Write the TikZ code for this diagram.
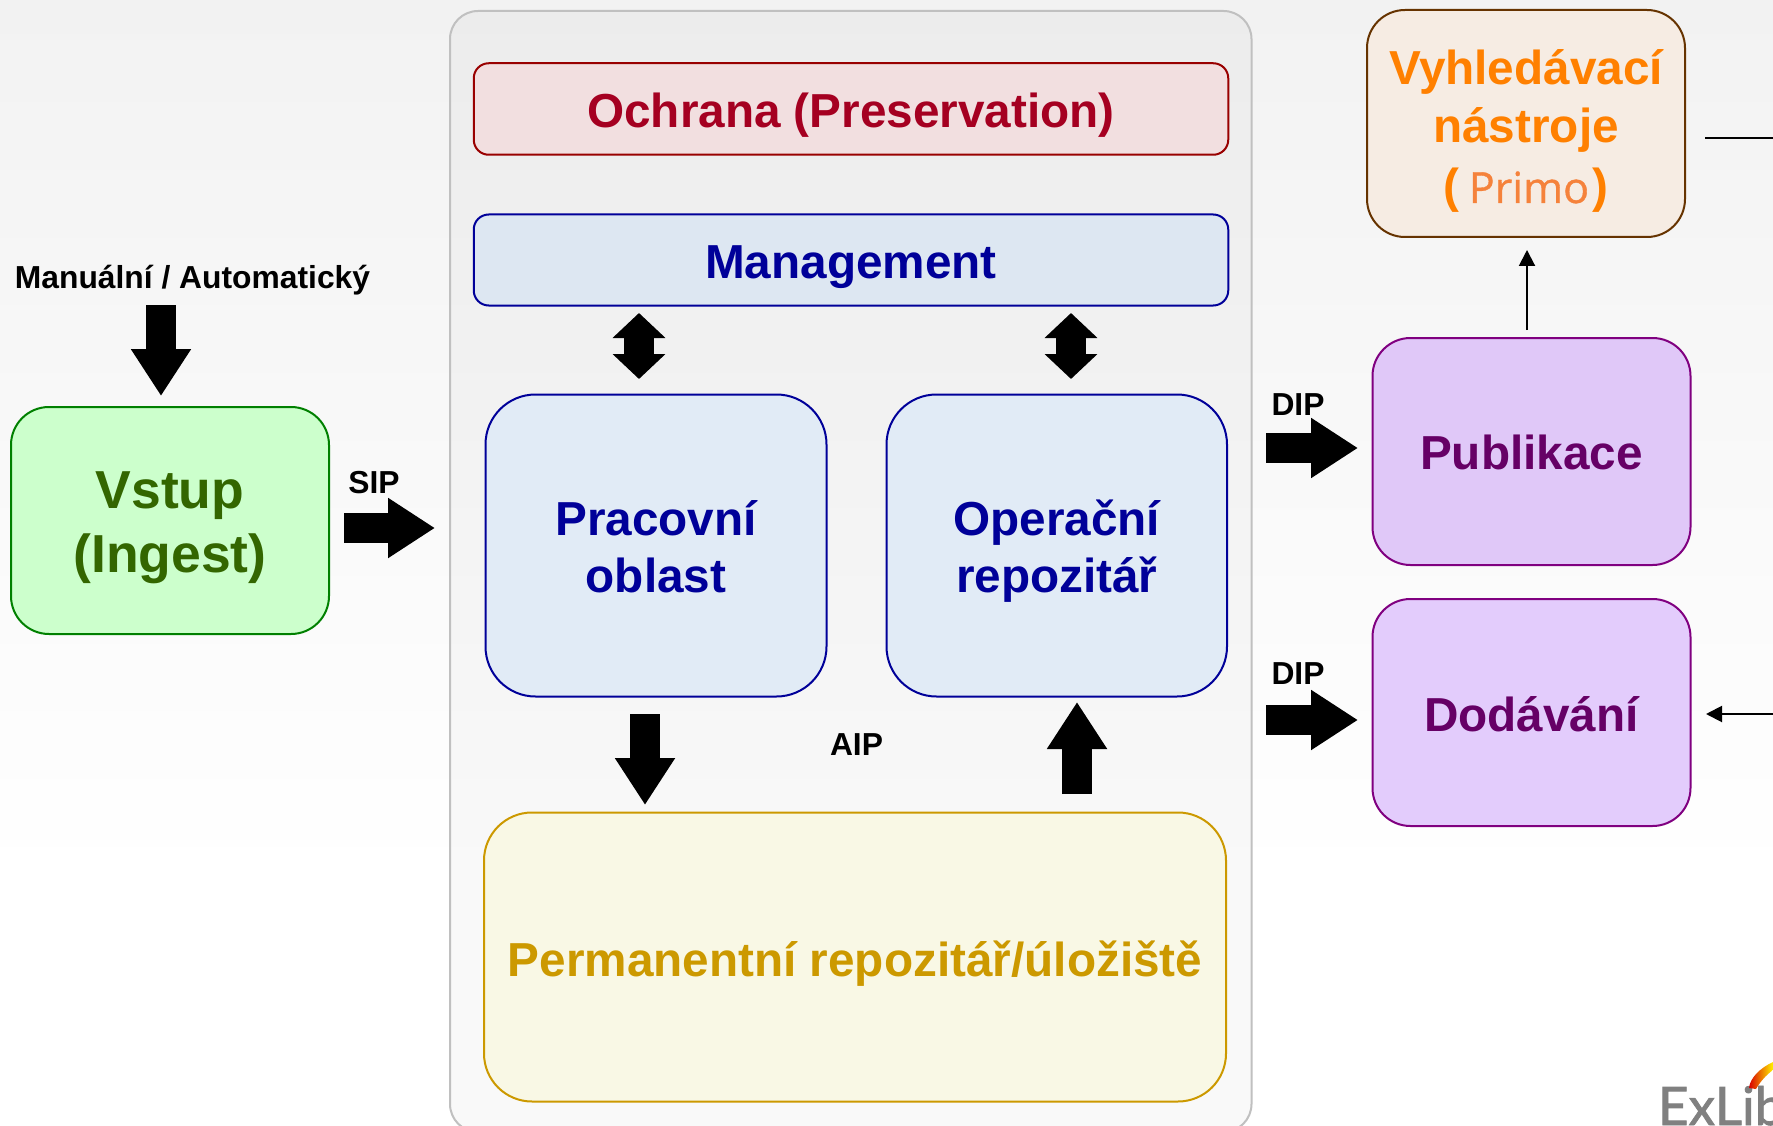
\documentclass[tikz,border=0pt]{standalone}
\usepackage{fontspec}
\setmainfont{Liberation Sans}
\newfontfamily\primofont[FakeBold=0.8]{Open Sans}
\newfontfamily\logofont[FakeBold=1.5]{Lato}
\usetikzlibrary{arrows.meta}
\definecolor{bgtop}{HTML}{F2F2F2}
\definecolor{frameline}{HTML}{C0C0C0}
\definecolor{greenfill}{HTML}{CCFFCC}\definecolor{greenline}{HTML}{008000}\definecolor{greentext}{HTML}{336600}
\definecolor{redfill}{HTML}{F2DFE0}\definecolor{redline}{HTML}{990000}\definecolor{redtext}{HTML}{A50021}
\definecolor{bluefilla}{HTML}{DDE7F2}\definecolor{bluefillb}{HTML}{E1EBF6}\definecolor{blueline}{HTML}{000099}
\definecolor{yellowfill}{HTML}{F9F8E5}\definecolor{yellowline}{HTML}{CC9900}
\definecolor{tanfill}{HTML}{F6ECE3}\definecolor{tanline}{HTML}{663300}\definecolor{orangetext}{HTML}{FF8000}\definecolor{primotext}{HTML}{F5823B}
\definecolor{purplefilla}{HTML}{E0C8F8}\definecolor{purplefillb}{HTML}{E3CCFC}\definecolor{purpleline}{HTML}{800080}\definecolor{purpletext}{HTML}{660066}
\tikzset{
  every node/.style={inner sep=0pt,outer sep=0pt},
  box/.style n args={4}{rectangle,draw=#1,fill=#2,line width=2pt,minimum width=#3,minimum height=#4,align=center,font=\fontsize{47.7}{57}\selectfont\bfseries},
  baseat/.style={text height=#1,text depth=0pt},
  lab/.style={font=\fontsize{31.8}{37}\selectfont\bfseries,anchor=base,text=black},
  blockarrow/.style={line width=30pt,draw=black,-{Triangle[length=47pt,width=57pt]}},
  blockdouble/.style={line width=30pt,draw=black,{Triangle[length=25pt,width=51.5pt]}-{Triangle[length=25pt,width=51.5pt]}},
  thinarrow/.style={line width=2pt,draw=black,-{Triangle[length=16pt,width=16pt]}},
  thinline/.style={line width=2pt,draw=black}
}
\begin{document}
\begin{tikzpicture}[x=1pt,y=-1pt]
\useasboundingbox (0,0) rectangle (1773,1126);
\clip (0,0) rectangle (1773,1126);
\fill[white] (0,0) rectangle (1773,1126);
\shade[top color=bgtop,bottom color=white] (0,0) rectangle (1773,880);

% frame
\node[draw=frameline,line width=2pt,fill=black,fill opacity=.025,draw opacity=1,rounded corners=28pt,minimum width=801.5pt,minimum height=1121pt] (frame) at (850.75,571.5) {};

% boxes
\node[box={greenline}{greenfill}{318pt}{227pt},rounded corners=38pt,text=greentext,font=\fontsize{53.5}{64}\selectfont\bfseries,baseat=103pt] (vstup) at (170,520.5) {Vstup\\(Ingest)};
\node[box={redline}{redfill}{754.5pt}{91.5pt},rounded corners=15pt,text=redtext,baseat=38pt] (ochrana) at (851,109) {Ochrana (Preservation)};
\node[box={blueline}{bluefilla}{754.5pt}{91pt},rounded corners=15pt,text=blueline,baseat=38pt] (mgmt) at (851,260) {Management};
\node[box={blueline}{bluefillb}{341pt}{302pt},rounded corners=50pt,text=blueline,baseat=94pt] (prac) at (656,545.5) {Pracovní\\oblast};
\node[box={blueline}{bluefillb}{340.5pt}{302pt},rounded corners=50pt,text=blueline,baseat=94pt] (oper) at (1056.75,545.5) {Operační\\repozitář};
\node[box={yellowline}{yellowfill}{742pt}{289pt},rounded corners=48pt,text=yellowline,baseat=38pt] (perm) at (855,957) {Permanentní repozitář/úložiště};
\node[box={tanline}{tanfill}{318pt}{227pt},rounded corners=38pt,text=orangetext,font=\fontsize{47.7}{60}\selectfont\bfseries,baseat=159pt] (vyhled) at (1526,123.5) {Vyhledávací\\[-2pt]nástroje\\({\hspace{9pt}\mdseries\primofont\fontsize{43}{60}\selectfont\textcolor{primotext}{Primo}\hspace{3pt}})};
\node[box={purpleline}{purplefilla}{318pt}{227pt},rounded corners=38pt,text=purpletext,baseat=36pt] (pub) at (1531.5,451.5) {Publikace};
\node[box={purpleline}{purplefillb}{318pt}{227pt},rounded corners=38pt,text=purpletext,baseat=37pt] (dod) at (1531.5,712.5) {Dodávání};

% labels
\node[lab] (manual) at (192.5,288) {Manuální / Automatický};
\node[lab] (sip) at (374,493) {SIP};
\node[lab] (aip) at (856.5,755) {AIP};
\node[lab] (dipa) at (1298,415) {DIP};
\node[lab] (dipb) at (1298,684) {DIP};

% free ends of the block arrows
\coordinate (ma) at (161,305);   \coordinate (mb) at (161,396);
\coordinate (sa) at (344,528);   \coordinate (sb) at (435,528);
\coordinate (da) at (1266,448);  \coordinate (db) at (1358,448);
\coordinate (ea) at (1266,720);  \coordinate (eb) at (1358,720);
\coordinate (pa) at (645,714);   \coordinate (pb) at (645,805);
\coordinate (ua) at (1077,794);  \coordinate (ub) at (1077,702);
\coordinate (la) at (639,313);   \coordinate (lb) at (639,379);
\coordinate (ra) at (1071,313);  \coordinate (rb) at (1071,379);
\draw[blockarrow] (ma) -- (mb);
\draw[blockarrow] (sa) -- (sb);
\draw[blockarrow] (da) -- (db);
\draw[blockarrow] (ea) -- (eb);
\draw[blockarrow] (pa) -- (pb);
\draw[blockarrow] (ua) -- (ub);
\draw[blockdouble] (la) -- (lb);
\draw[blockdouble] (ra) -- (rb);

% thin connectors
\coordinate (ta) at (1527,330);  \coordinate (tb) at (1527,250);
\coordinate (va) at (1705,138);  \coordinate (vb) at (1773,138);
\coordinate (xa) at (1773,714);  \coordinate (xb) at (1706,714);
\draw[thinarrow] (ta) -- (tb);
\draw[thinline] (va) -- (vb);
\draw[thinarrow] (xa) -- (xb);

% logo
\node[anchor=base west,text=black!50,font=\logofont\fontsize{53}{60}\selectfont] (logo) at (1658,1125) {ExLib};
\shade[left color=red!85!black,right color=yellow!90!orange] (1749,1088) .. controls (1750,1078) and (1760,1068) .. (1773,1062) -- (1773,1070) .. controls (1766,1075) and (1760,1082) .. (1756,1089) -- cycle;
\end{tikzpicture}
\end{document}
